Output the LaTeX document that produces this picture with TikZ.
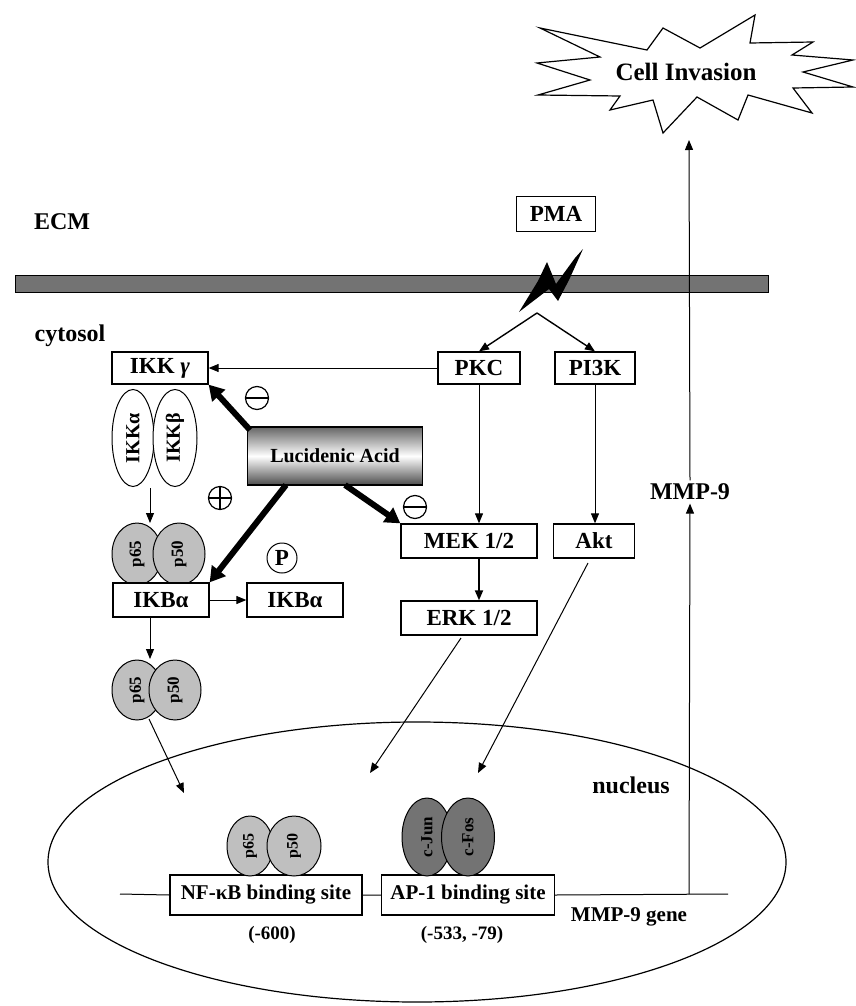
\documentclass[tikz,border=0pt]{standalone}
\usepackage{fontspec}
\setmainfont{Liberation Serif}
\usetikzlibrary{arrows.meta,shapes.geometric}
\begin{document}
\begin{tikzpicture}[x=1pt,y=-1pt,
  every node/.style={font=\bfseries\fontsize{23}{25}\selectfont},
  box/.style={draw,line width=1.3pt,fill=white,inner sep=2pt,minimum height=34pt},
  lbl/.style={font=\bfseries\fontsize{24}{26}\selectfont},
  small/.style={font=\bfseries\fontsize{19}{21}\selectfont},
  prot/.style={draw,line width=1pt,fill=black!25,ellipse,inner sep=0pt},
  rtxt/.style={rotate=90,font=\bfseries\fontsize{20}{22}\selectfont},
  ntxt/.style={rotate=90,font=\bfseries\fontsize{17}{19}\selectfont},
  arr/.style={line width=1pt,-{Triangle[length=10pt,width=8pt]}},
  thickarr/.style={line width=6pt,-{Triangle[length=15pt,width=17pt]}},
  sign/.style={draw,circle,line width=1.2pt,minimum size=23pt,inner sep=0pt}
]
\useasboundingbox (0,0) rectangle (855,1006);
% starburst
\draw[line width=1.2pt,fill=white] (540,28) -- (647,50) -- (663,28) -- (700,48) -- (755,15) -- (750,43) -- (813,42) -- (792,55) -- (853,60) -- (803,72) -- (853,87) -- (793,88) -- (812,113) -- (748,95) -- (738,120) -- (697,97) -- (663,133) -- (653,100) -- (610,110) -- (620,96) -- (538,95) -- (590,80) -- (537,63) -- (600,57) -- cycle;
\node[font=\bfseries\fontsize{25}{27}\selectfont] (inv) at (686,72) {Cell Invasion};
\coordinate (invb) at (689,140);
% membrane
\draw[line width=1pt,fill=black!55] (15,275) rectangle (768,292);
\node[lbl] (ecm) at (62,222) {ECM};
\node[lbl] (cyto) at (70,336) {cytosol};
\node[box,minimum width=79pt,minimum height=35pt] (pma) at (556,214) {PMA};
% lightning
\fill[black] (519,312) -- (538,281) -- (547,262) -- (556,284) -- (575,258) -- (583,249) -- (569,280) -- (558,301) -- (549,289) -- (532,302) -- cycle;
\coordinate (apex) at (537,313);
% boxes
\node[box,minimum width=82pt,minimum height=32pt] (pkc) at (479,368) {PKC};
\node[box,minimum width=80pt,minimum height=32pt] (pi3k) at (595,368) {PI3K};
\node[box,minimum width=96pt,minimum height=32pt] (ikkg) at (160,368) {IKK \textit{γ}};
\node[box,minimum width=136pt] (mek) at (469,541) {MEK 1/2};
\node[box,minimum width=136pt] (erk) at (469,618) {ERK 1/2};
\node[box,minimum width=81pt] (akt) at (594,541) {Akt};
\node[box,minimum width=96pt] (ikbb) at (295,600) {IKBα};
\node[draw,line width=1pt,circle,minimum size=30pt,inner sep=0pt,fill=white] (p) at (282,558) {P};
\node[draw,line width=1.3pt,minimum width=175pt,minimum height=58pt,top color=black!60,bottom color=black!70,middle color=white] (luc) at (335,456) {\fontsize{20}{22}\selectfont Lucidenic Acid};
% IKK ellipses
\node[draw,line width=1pt,fill=white,ellipse,minimum width=42pt,minimum height=97pt,inner sep=0pt] (ikka) at (133,438) {};
\node[draw,line width=1pt,fill=white,ellipse,minimum width=44pt,minimum height=97pt,inner sep=0pt] (ikkb) at (175,438) {};
\node[rtxt] at (ikka) {IKKα};
\node[rtxt] at (ikkb) {IKKβ};
% p65/p50 pairs
\node[prot,minimum width=50pt,minimum height=62pt] (p65a) at (137,554) {};
\node[prot,minimum width=52pt,minimum height=62pt] (p50a) at (179,554) {};
\node[ntxt] at (p65a) {p65};
\node[ntxt] at (p50a) {p50};
\node[prot,minimum width=50pt,minimum height=60pt] (p65b) at (137,690) {};
\node[prot,minimum width=52pt,minimum height=60pt] (p50b) at (175,690) {};
\node[ntxt] at (p65b) {p65};
\node[ntxt] at (p50b) {p50};
\node[box,minimum width=96pt] (ikba) at (161,600) {IKBα};
% signs
\node[sign] (m1) at (257,398) {};
\draw[line width=1.2pt] (m1.west) -- (m1.east);
\node[sign] (pl) at (220,498) {};
\draw[line width=1.2pt] (pl.west) -- (pl.east) (pl.north) -- (pl.south);
\node[sign] (m2) at (415,507) {};
\draw[line width=1.2pt] (m2.west) -- (m2.east);
% nucleus
\draw[line width=1.2pt] (417,862) ellipse [x radius=369, y radius=140];
\node[lbl] (nuc) at (631,785) {nucleus};
\coordinate (gl) at (120,894);
\coordinate (gr) at (728,894);
\coordinate (gm) at (689,894);
\node[box,minimum width=192pt,minimum height=40pt,font=\bfseries\fontsize{21}{23}\selectfont] (nf) at (266,895) {NF-κB binding site};
\node[box,minimum width=173pt,minimum height=40pt,font=\bfseries\fontsize{21}{23}\selectfont] (ap) at (468,895) {AP-1 binding site};
\draw[line width=1pt] (gl) -- (nf.west) (nf.east) -- (ap.west) (ap.east) -- (gr);
\node[prot,minimum width=46pt,minimum height=60pt] (p65c) at (250,846) {};
\node[prot,minimum width=54pt,minimum height=60pt] (p50c) at (294,846) {};
\node[ntxt,font=\bfseries\fontsize{16}{18}\selectfont] at (p65c) {p65};
\node[ntxt,font=\bfseries\fontsize{16}{18}\selectfont] at (p50c) {p50};
\node[prot,fill=black!55,minimum width=50pt,minimum height=78pt] (jun) at (427,837) {};
\node[prot,fill=black!55,minimum width=53pt,minimum height=78pt] (fos) at (468,837) {};
\node[ntxt] at (jun) {c-Jun};
\node[ntxt] at (fos) {c-Fos};
\node[small] (l600) at (272,935) {(-600)};
\node[small] (l533) at (462,935) {(-533, -79)};
\node[font=\bfseries\fontsize{21}{23}\selectfont] (gene) at (629,917) {MMP-9 gene};
\node[lbl] (mmp) at (690,492) {MMP-9};
% connectors
\draw[arr] (gm) -- (mmp.south);
\draw[arr] (mmp.north) -- (invb);
\draw[arr,line width=1.4pt] (apex) -- (pkc.north);
\draw[arr,line width=1.4pt] (apex) -- (pi3k.north);
\draw[arr] (pkc.west) -- (ikkg.east);
\draw[arr] (pkc.south) -- (pkc.south |- mek.north);
\draw[arr,line width=1.8pt] (pkc.south |- mek.south) -- (pkc.south |- erk.north);
\draw[arr] (pi3k.south) -- (pi3k.south |- akt.north);
\coordinate (ikkbot) at (150,488);
\coordinate (p65top) at (150,523);
\draw[arr] (ikkbot) -- (p65top);
\coordinate (ikbbot) at (150,617);
\coordinate (p65btop) at (150,659);
\draw[arr] (ikbbot) -- (p65btop);
\draw[arr] (ikba.east) -- (ikbb.west);
\coordinate (nfk) at (184,793);
\coordinate (erkt) at (370,773);
\coordinate (aktt) at (478,773);
\coordinate (p65bot) at (149,719);
\coordinate (erkb) at (461,638);
\coordinate (aktb) at (588,563);
\draw[arr] (p65bot) -- (nfk);
\draw[arr] (erkb) -- (erkt);
\draw[arr] (aktb) -- (aktt);
\coordinate (l1) at (250,430);
\coordinate (l2) at (286,485);
\coordinate (l3) at (345,485);
\draw[thickarr] (l1) -- (ikkg.south east);
\draw[thickarr] (l2) -- (ikba.north east);
\draw[thickarr] (l3) -- (mek.north west);
\end{tikzpicture}
\end{document}
